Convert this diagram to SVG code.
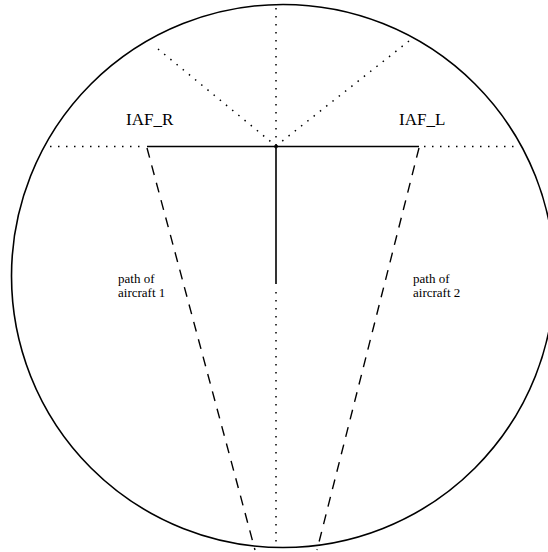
<svg xmlns="http://www.w3.org/2000/svg" width="548" height="552" viewBox="0 0 548 552">
<style>
.solid{stroke:#000;stroke-width:1.6;fill:none}
.dot{stroke:#000;stroke-width:1.5;fill:none;stroke-dasharray:1.5 6.5}
.dash{stroke:#000;stroke-width:1.4;fill:none;stroke-dasharray:10 8}
.lbl{font-family:"Liberation Serif",serif;fill:#000}
</style>
<rect width="548" height="552" fill="#fff"/>
<g id="boundary"><circle class="solid" cx="283" cy="276" r="271.5"/></g>
<g id="connectors">
<line class="dot" x1="276" y1="8" x2="276" y2="146"/>
<line class="dot" x1="276" y1="292" x2="276" y2="546"/>
<line class="dot" x1="50" y1="146.5" x2="146" y2="146.5"/>
<line class="dot" x1="424" y1="146.5" x2="520" y2="146.5"/>
<line class="dot" x1="158" y1="49" x2="276" y2="146"/>
<line class="dot" x1="409" y1="41" x2="276" y2="146"/>
<line class="solid" x1="147" y1="146.5" x2="419" y2="146.5"/>
<line class="solid" x1="276" y1="146.5" x2="276" y2="284"/>
<circle cx="276" cy="146.5" r="1.6" fill="none" stroke="#000" stroke-width="0.8"/>
<line class="dash" x1="147" y1="148" x2="255" y2="550"/>
<line class="dash" x1="419" y1="148" x2="317" y2="550"/>
</g>
<g id="IAF_R"><text class="lbl" x="126" y="125" font-size="17">IAF_R</text></g>
<g id="IAF_L"><text class="lbl" x="399" y="125" font-size="17">IAF_L</text></g>
<g id="path1"><text class="lbl" x="118" y="283" font-size="13">path of</text><text class="lbl" x="118" y="296.5" font-size="13">aircraft 1</text></g>
<g id="path2"><text class="lbl" x="413" y="283" font-size="13">path of</text><text class="lbl" x="413" y="296.5" font-size="13">aircraft 2</text></g>
</svg>
